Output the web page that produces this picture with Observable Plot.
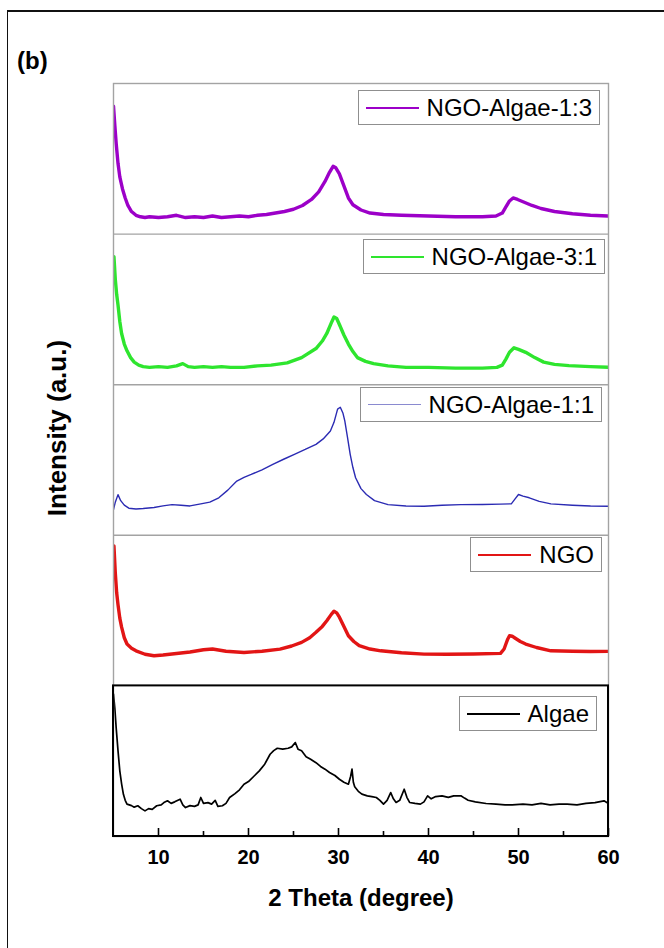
<!DOCTYPE html>
<html>
<head>
<meta charset="utf-8">
<script src="https://cdn.jsdelivr.net/npm/d3@7"></script>
<script src="https://cdn.jsdelivr.net/npm/@observablehq/plot@0.6"></script>
<style>
  body { margin: 0; background: #fff; }
  #wrap { position: relative; width: 664px; height: 948px; overflow: hidden;
          font-family: "Liberation Sans", Arial, sans-serif; color: #000; }
  #wrap svg { position: absolute; left: 0; top: 0; }
  .lbl { position: absolute; white-space: nowrap; font-weight: bold; line-height: 1; }
  .legend { position: absolute; box-sizing: border-box; height: 35px; border: 1px solid #8f8f8f;
            background: #fff; display: flex; align-items: center; padding: 0 7px 0 7px; }
  .legend .sw { width: 53px; margin-right: 8px; }
  .legend .tx { font-size: 24px; line-height: 1; }
  .border { position: absolute; background: #111; }
</style>
</head>
<body>
<div id="wrap"></div>
<script>
// ---------- data (2θ in degrees, intensity in a.u. normalised per trace) ----------
const seriesNames = ["NGO-Algae-1:3", "NGO-Algae-3:1", "NGO-Algae-1:1", "NGO", "Algae"];
const seriesColors = ["#9c00c8", "#2ee52e", "#2b2bb3", "#e21515", "#000000"];
const legendSwatchColors = ["#9c00c8", "#2ee52e", "#8a8ad0", "#e21515", "#000000"];
const stackOffsets = [400, 300, 200, 100, 0];
const xMajorTicks = [10, 20, 30, 40, 50, 60];
const xMinorTicks = [15, 25, 35, 45, 55];

const ngoAlgae13 = [[5.0,85],[5.15,72],[5.3,60],[5.5,47],[5.7,38],[6.0,30],[6.3,24],[6.6,19],[7.0,15],[7.5,12.5],[8,11.5],[8.5,11],[9,11.5],[10,11],[11,11.5],[12,12.5],[13,11],[14,11.5],[15,11],[16,12],[17,11],[18,11.5],[19,12],[20,11.5],[21,12.5],[22,13],[23,14],[24,15],[25,16.5],[26,19],[27,23],[27.8,28],[28.5,35],[29,41],[29.4,45],[29.7,44],[30.1,40],[30.6,32],[31.1,24],[31.6,19.5],[32.5,16],[33.5,14],[35,13],[37,12.5],[40,12],[43,11.5],[46,11.5],[47.5,12],[48.2,14],[48.6,18],[49,22],[49.4,24],[49.9,23],[50.5,21.5],[51.5,19],[52.5,17],[54,15],[56,13.5],[58,12.5],[60,12]];

const ngoAlgae31 = [[5.05,85],[5.2,70],[5.35,60],[5.5,53],[5.7,42],[5.9,34],[6.2,27],[6.5,22.5],[6.9,18],[7.3,15],[7.8,13],[8.3,12],[9,11.5],[10,12],[11,11.5],[12,12.5],[12.7,14],[13.3,12],[14,11.5],[15,12],[16,11.5],[17,12],[18,11.5],[19.5,11.5],[21,12.5],[22.5,13],[24.3,14.5],[25.9,18],[27.5,24],[28.2,29],[28.7,34],[29.2,41],[29.5,45],[29.8,44],[30.1,40],[30.6,33],[31.1,27],[31.6,22],[32.1,18],[33,15.5],[33.9,14],[35.5,12.5],[37.5,11.5],[40,11.5],[43,11],[46,11],[47.6,11.5],[48.2,13],[48.6,17],[49,21.5],[49.5,24.5],[50,23.5],[50.8,21.5],[51.8,18],[52.8,15],[54,13.5],[55.6,12.7],[58,12],[60,11.6]];

const ngoAlgae11 = [[5.0,17],[5.2,22],[5.5,27],[5.8,23],[6.2,20],[6.7,18],[7.5,17.5],[8.3,17.8],[9.5,18.5],[10.5,19.5],[11.5,20.4],[12.5,20],[13.5,19.5],[14.7,20.9],[15.7,22],[16.7,24.9],[17.7,30],[18.7,36],[19.5,38.5],[20.3,40.4],[21.5,43.5],[22.7,47.1],[23.9,50.5],[25.1,53.8],[26.3,57],[27.5,60.4],[28.3,64],[29.1,69.3],[29.5,75],[29.9,83.8],[30.2,85],[30.5,81],[30.7,76],[31,65],[31.3,53.8],[31.6,45],[31.9,38.2],[32.5,31],[33.1,27.1],[34,23],[35.5,20.4],[37.5,19.5],[39.5,19.3],[41.5,20],[43.6,20.4],[46,20.5],[48,20.7],[49.2,20.9],[49.6,24],[50,27.1],[50.5,26],[51.2,24.9],[52.3,22.5],[53.6,20.9],[56,20],[58,19.5],[60,19.3]];

const ngo = [[5.05,93],[5.2,75],[5.35,62],[5.5,54],[5.7,45],[5.9,39],[6.2,32],[6.5,27.8],[7,25],[7.5,23.3],[8.5,21],[9.5,20],[10.5,20.5],[12,21.5],[13.5,22.5],[15,24],[16,24.5],[17.5,23],[19.5,22.2],[21.5,23],[23.5,24.4],[24.8,26.5],[25.9,28.9],[26.8,32],[27.5,35.6],[28.2,39.5],[28.7,43.3],[29.2,47.5],[29.5,49.6],[29.8,48.5],[30.1,45.6],[30.6,39.5],[31.1,33.3],[31.7,29.5],[32.3,26.7],[33.5,24.5],[34.7,23.3],[37,22],[39.5,21.1],[42,21],[45,21.2],[48,21.6],[48.4,24.5],[48.6,27.8],[48.8,31],[49,33.3],[49.3,33],[49.6,31.8],[50.2,29.5],[50.8,27.8],[52,25.5],[53.6,23.3],[56,23],[58,22.8],[60,22.9]];

const algae = [[5.0,94.5],[5.15,85],[5.3,72],[5.5,57],[5.7,43.6],[5.9,35],[6.1,28],[6.3,24],[6.5,21.5],[7.0,20.5],[7.3,19.5],[7.7,20.4],[8.1,18.5],[8.5,17],[8.9,18.5],[9.3,18],[9.8,20.4],[10.3,21],[10.6,22.5],[11,23.7],[11.4,22],[11.8,23],[12.4,24.8],[12.7,21],[13,19.2],[13.5,20.5],[14,20],[14.4,21],[14.7,25.9],[15,22],[15.5,22.5],[15.9,21.5],[16.3,24],[16.6,20],[17.1,20.4],[17.5,22],[17.9,25.9],[18.5,28.5],[19,31],[19.5,34.7],[20,36.5],[20.6,40],[21.2,43.6],[21.8,48],[22.4,54.6],[22.8,57],[23.2,58.6],[23.8,58],[24.4,58.6],[24.8,59.5],[25.2,62.4],[25.5,58],[25.9,56.9],[26.4,53],[26.9,51.3],[27.5,49],[28,46.5],[28.5,44.7],[29,42.5],[29.6,40.5],[30.1,38],[30.6,36],[31.1,34.7],[31.35,40],[31.5,44.7],[31.65,36],[31.8,33],[32.2,30],[32.6,28.1],[33.2,27],[33.7,26.5],[34.2,25.9],[34.6,24],[35,21.5],[35.4,24],[35.8,29.2],[36.1,25],[36.4,22.6],[36.8,24],[37.3,31.4],[37.6,26],[37.9,22.6],[38.5,22],[39.1,21.5],[39.5,23],[39.9,27],[40.3,25],[40.8,26.5],[41.5,27],[42.2,26],[42.8,27],[43.6,27],[44,25.5],[44.4,24.1],[45.2,23],[46.4,21.9],[47.5,21.5],[48.5,21],[49.3,21],[50.5,21.5],[51.5,21],[52.5,22],[53.5,21],[54.5,21.5],[55.4,21.5],[56.5,21],[57.5,22],[58.5,22.5],[59.5,23.7],[60,21.9]];

const seriesData = [ngoAlgae13, ngoAlgae31, ngoAlgae11, ngo, algae];

// ---------- styles ----------
const lineWidths = [3.4, 3.4, 1.4, 3.4, 1.7];
const legendTop = [90, 239, 387, 537, 696];     // px, legend box tops
const legendRight = [600, 605, 602, 602, 597];  // px, legend box right edges
const swatchHeights = [2, 2, 1, 2, 2];

const W = 664, H = 948;
const M = {top: 83, right: 56, bottom: 112, left: 113};

const rows = seriesData.flatMap((arr, i) =>
  arr.map(([theta, I]) => ({series: seriesNames[i], theta, y: I + stackOffsets[i]})));

const panels = seriesNames.map((s, i) => ({series: s, y1: stackOffsets[i], y2: stackOffsets[i] + 100}));

const frameH = H - M.top - M.bottom;

const plot = Plot.plot({
  width: W, height: H,
  marginTop: M.top, marginRight: M.right, marginBottom: M.bottom, marginLeft: M.left,
  style: {fontFamily: '"Liberation Sans", Arial, sans-serif', background: "transparent", overflow: "visible"},
  x: {domain: [5, 60]},
  y: {domain: [0, 500], axis: null},
  marks: [
    ...seriesNames.map((s, i) => Plot.line(rows.filter(r => r.series === s), {
      x: "theta", y: "y", stroke: seriesColors[i], strokeWidth: lineWidths[i],
      strokeLinejoin: "round", clip: true
    })),
    Plot.frame({stroke: "#a3a3a3", strokeWidth: 1.4}),
    Plot.ruleY(stackOffsets.filter(o => o > 100), {y: d => d, stroke: "#a3a3a3", strokeWidth: 1.4}),
    Plot.rect(panels.filter(p => p.series === "Algae"), {x1: () => 5, x2: () => 60, y1: "y1", y2: "y2",
      fill: "none", stroke: "#000", strokeWidth: 2}),
    Plot.ruleX(xMajorTicks, {x: d => d, insetTop: frameH - 8, stroke: "#000", strokeWidth: 1.6}),
    Plot.ruleX(xMinorTicks, {x: d => d, insetTop: frameH - 5, stroke: "#000", strokeWidth: 1.6}),
    Plot.axisX(xMajorTicks, {tickSize: 0, tickPadding: 13, fontSize: 20, fontWeight: "bold",
      tickFormat: d => String(d), label: null})
  ]
});

const wrap = document.getElementById("wrap");
wrap.appendChild(plot);

// outer figure border (top and left edges)
const bTop = document.createElement("div");
bTop.className = "border";
Object.assign(bTop.style, {left: "7px", top: "10px", width: (W - 7) + "px", height: "1.6px"});
wrap.appendChild(bTop);
const bLeft = document.createElement("div");
bLeft.className = "border";
Object.assign(bLeft.style, {left: "6.5px", top: "10px", width: "1.6px", height: (H - 10) + "px"});
wrap.appendChild(bLeft);

// legends
seriesNames.forEach((s, i) => {
  const box = document.createElement("div");
  box.className = "legend";
  box.style.top = legendTop[i] + "px";
  box.style.right = (W - legendRight[i]) + "px";
  const sw = document.createElement("div");
  sw.className = "sw";
  sw.style.height = swatchHeights[i] + "px";
  sw.style.background = legendSwatchColors[i];
  const tx = document.createElement("span");
  tx.className = "tx";
  tx.textContent = s;
  box.appendChild(sw); box.appendChild(tx);
  wrap.appendChild(box);
});

// panel tag
const tag = document.createElement("div");
tag.className = "lbl";
tag.textContent = "(b)";
Object.assign(tag.style, {left: "17px", top: (69 - 0.8465 * 24) + "px", fontSize: "24px"});
wrap.appendChild(tag);

// y label
const yl = document.createElement("div");
yl.className = "lbl";
yl.textContent = "Intensity (a.u.)";
Object.assign(yl.style, {left: "57px", top: "428px", fontSize: "26px",
  transform: "translate(-50%,-50%) rotate(-90deg)"});
wrap.appendChild(yl);

// x label
const xl = document.createElement("div");
xl.className = "lbl";
xl.textContent = "2 Theta (degree)";
Object.assign(xl.style, {left: "361px", top: (906 - 0.8465 * 24) + "px", fontSize: "24px",
  transform: "translateX(-50%)"});
wrap.appendChild(xl);
</script>
</body>
</html>
